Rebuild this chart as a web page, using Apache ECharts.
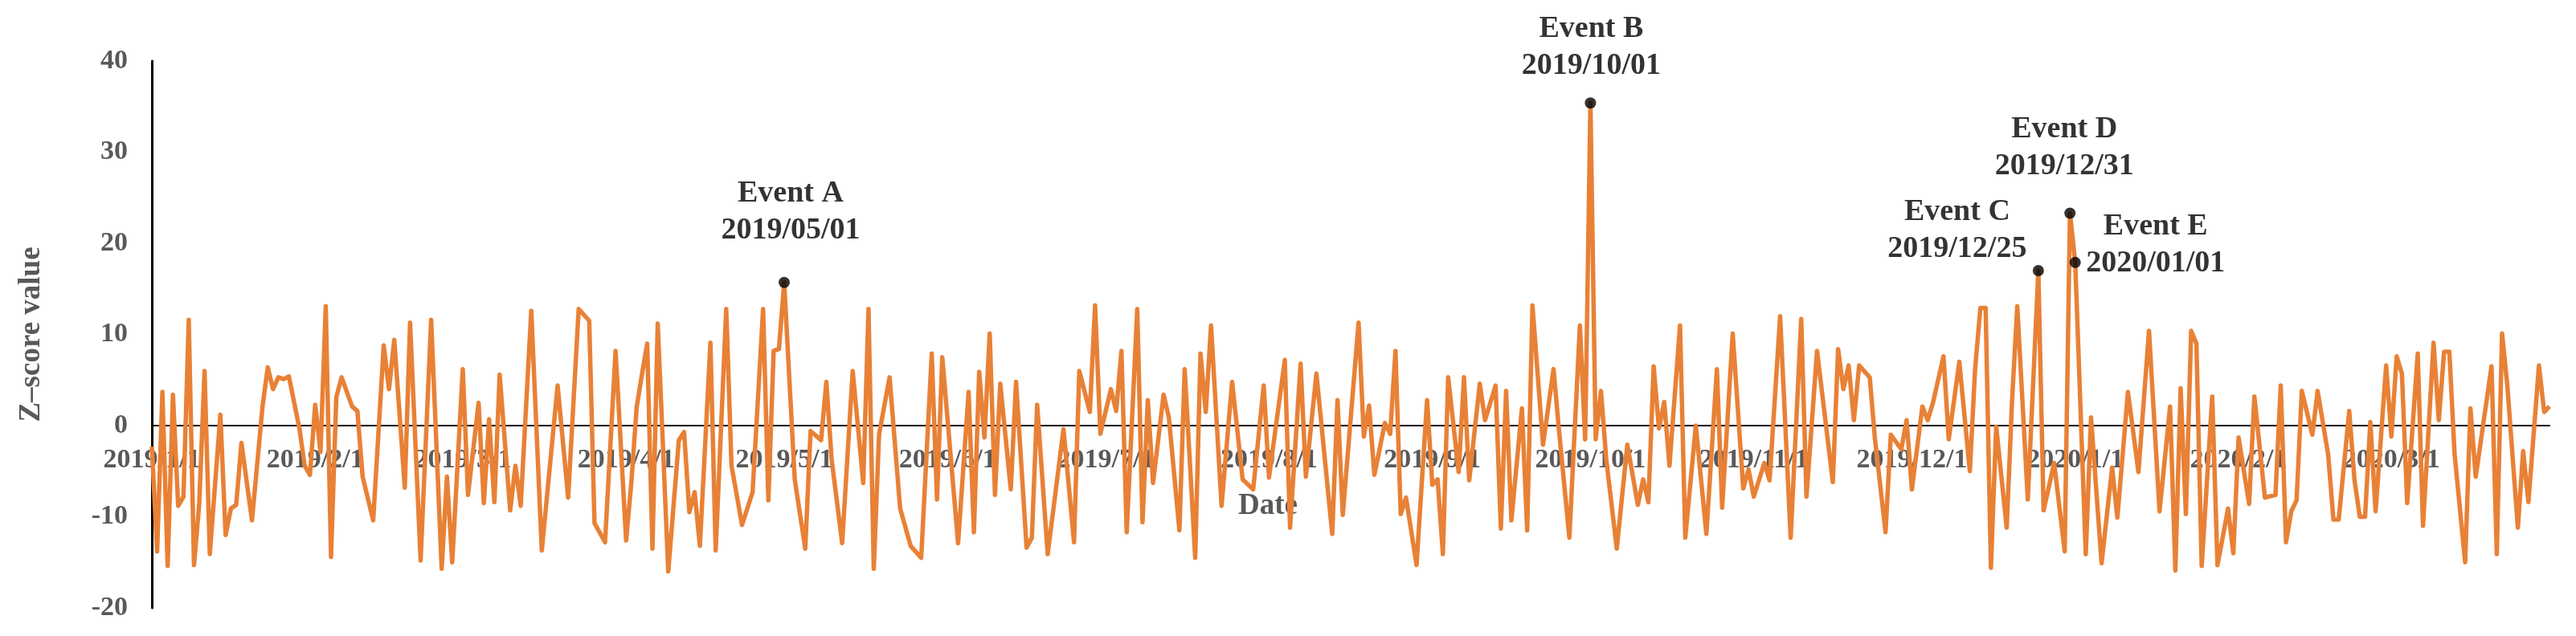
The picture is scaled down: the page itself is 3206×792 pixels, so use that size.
<!DOCTYPE html>
<html>
<head>
<meta charset="utf-8">
<script src="https://cdn.jsdelivr.net/npm/echarts@6/dist/echarts.min.js"></script>
<style>
html,body{margin:0;padding:0;background:#fff;}
#chart{width:3206px;height:792px;}
</style>
</head>
<body>
<div id="chart"></div>
<script>
// ---- Data ----
// day offsets from 2019/1/1 of each visible vertex of the series
const dayIndex = [
0,1,2,3,4,5,6,7,8,9,10,11,13,14,15,16,17,19,21,22,23,24,25,26,28,29,30,31,32,33,34,35,36,38,39,40,42,44,45,46,48,49,51,53,55,56,57,59,60,62,63,64,65,66,68,69,70,72,74,77,79,81,83,84,86,88,90,91,92,93,94,95,
96,98,100,101,102,103,104,106,107,109,110,112,114,116,117,118,119,120,122,124,125,127,128,129,131,133,135,136,137,138,140,142,144,146,148,149,150,153,155,156,157,158,159,160,161,163,164,166,167,168,170,173,175,176,178,179,180,182,183,184,185,187,188,189,190,192,193,195,
196,198,199,200,201,203,205,207,209,211,212,215,216,218,219,221,224,225,226,229,230,231,232,234,235,236,237,238,240,242,243,244,245,246,248,249,250,252,253,255,256,257,258,260,261,262,264,266,267,269,271,272,273,274,275,276,278,280,282,283,284,285,286,287,288,290,291,293,
295,297,298,300,302,303,304,306,307,309,311,313,314,316,319,320,321,322,323,324,326,327,329,330,332,333,334,336,337,338,340,341,343,345,346,347,348,349,350,352,353,354,356,358,359,361,363,364,365,367,368,370,372,373,375,377,379,381,383,384,385,386,387,388,389,391,392,394,395,396,398,
399,401,403,404,405,406,407,408,410,411,413,414,415,417,418,419,420,421,422,424,425,426,427,428,430,431,433,434,435,436,437,439,440,441,444,445,446,447,449,450,451,453,454,455
];
const zScore = [
-2.3,-13.8,3.7,-15.4,3.4,-8.8,-7.8,11.6,-15.3,-8.5,6.0,-14.1,1.2,-12.0,-9.1,-8.7,-1.9,-10.4,2.1,6.4,4.0,5.3,5.1,5.4,-0.3,-4.4,-5.4,2.3,-2.9,13.1,-14.4,3.1,5.3,2.1,1.6,-5.6,-10.4,8.8,4.0,9.4,-6.8,11.3,-14.8,11.6,-15.7,-5.6,-15.0,6.2,-7.6,2.5,-8.5,0.7,-8.4,5.6,-9.3,-4.4,-8.8,12.6,-13.7,4.4,-7.9,12.8,11.5,-10.7,-12.8,8.2,-12.6,-6.2,2.0,5.6,9.0,-13.5,
11.2,-16.0,-1.6,-0.7,-9.5,-7.3,-13.2,9.1,-13.7,12.8,-4.4,-10.9,-7.3,12.8,-8.2,8.2,8.4,15.7,-5.9,-13.5,-0.6,-1.6,4.8,-3.7,-12.9,6.0,-6.3,12.8,-15.7,-1.0,5.3,-9.1,-13.2,-14.5,7.9,-8.1,7.5,-12.9,3.7,-11.7,5.9,-1.3,10.1,-7.6,4.6,-7.0,4.8,-13.4,-12.3,2.3,-14.1,-0.4,-12.8,6.0,1.5,13.2,-0.9,4.0,1.6,8.2,-11.7,12.8,-10.6,2.8,-6.3,3.4,0.9,-11.5,
6.2,-14.5,7.9,1.5,11.0,-8.8,4.8,-5.9,-7.0,4.4,-5.7,7.2,-11.2,6.8,-5.6,5.7,-11.9,2.8,-9.8,11.3,-1.2,2.2,-5.4,0.3,-0.9,8.2,-9.7,-7.9,-15.3,2.8,-6.5,-5.9,-14.1,5.3,-5.1,5.3,-6.0,4.6,0.6,4.4,-11.3,3.8,-10.4,1.9,-11.5,13.2,-2.1,6.2,-0.3,-12.3,11.0,-1.5,35.4,-1.5,3.8,-3.7,-13.5,-2.1,-8.7,-5.9,-8.4,6.5,-0.3,2.6,-4.4,11.0,-12.3,0.0,
-11.9,6.2,-9.0,10.1,-6.9,-4.8,-7.8,-4.1,-6.0,12.0,-12.3,11.7,-7.8,8.2,-6.2,8.4,4.0,6.6,0.6,6.6,5.3,-1.5,-11.7,-1.0,-2.6,0.6,-7.0,2.1,0.6,2.5,7.6,-1.5,7.0,-5.0,6.2,12.9,12.9,-15.6,-0.1,-11.2,2.6,13.1,-8.1,17.0,-9.3,-4.1,-13.8,23.3,17.9,-14.1,0.9,-15.1,-4.6,-10.1,3.7,-5.1,10.4,-9.4,2.1,-15.9,4.1,-9.7,10.4,9.0,-15.4,3.2,-15.3,-9.1,-14.0,-1.3,-8.6,
3.2,-7.9,-7.6,4.4,-12.8,-9.4,-8.2,3.8,-1.0,3.8,-3.2,-10.3,-10.3,1.6,-6.0,-10.0,-10.0,0.4,-9.4,6.6,-1.2,7.6,5.7,-8.5,7.9,-11.0,9.1,0.6,8.1,8.1,-3.2,-15.0,1.9,-5.6,6.5,-14.1,10.1,4.4,-11.2,-2.8,-8.4,6.6,1.5,2.1
];
const tickLabels = ['2019/1/1','2019/2/1','2019/3/1','2019/4/1','2019/5/1','2019/6/1','2019/7/1','2019/8/1','2019/9/1','2019/10/1','2019/11/1','2019/12/1','2020/1/1','2020/2/1','2020/3/1'];
const yTicks = [-20,-10,0,10,20,30,40];
const eventNames = ['Event A','Event B','Event C','Event D','Event E'];
const eventDates = ['2019/05/01','2019/10/01','2019/12/25','2019/12/31','2020/01/01'];
const eventValues = [15.7,35.4,17.0,23.3,17.9];
const startDate = '2019/1/1';
const endDate = '2020/3/31';

// ---- helpers ----
function toDay(s){
  const p = s.split('/').map(Number);
  const base = Date.UTC(2019,0,1);
  return Math.round((Date.UTC(p[0],p[1]-1,p[2]) - base)/864e5);
}
const tickDays = tickLabels.map(toDay);
const labelByDay = {};
tickDays.forEach((d,i)=>{ labelByDay[d] = tickLabels[i]; });
const lineData = dayIndex.map((d,i)=>[d, zScore[i]]);

// label placement per event (style only)
const evLabelStyle = [
  {offset:[8,-30]},
  {offset:[1,-11]},
  {offset:[-101,8]},
  {offset:[-7,-23]},
  {offset:[100,36]}
];
const eventData = eventNames.map((n,i)=>({
  value:[toDay(eventDates[i]), eventValues[i]],
  label:{show:true, position:'top', distance:5, offset:evLabelStyle[i].offset,
         formatter: n + '\n' + eventDates[i]}
}));

const serif = '"Liberation Serif", "Times New Roman", serif';
const yMin = yTicks[0], yMax = yTicks[yTicks.length-1];
const gridTop = 76, gridBottom = 35, chartH = 792;
// move the x axis (line, labels, name) up to the zero line
const zeroOffset = -((chartH - gridBottom - gridTop) * (0 - yMin) / (yMax - yMin));

const chart = echarts.init(document.getElementById('chart'), null, {renderer:'canvas'});
chart.setOption({
  animation:false,
  backgroundColor:'#ffffff',
  grid:{left:189, right:33, top:gridTop, bottom:gridBottom, containLabel:false, outerBoundsMode:'none'},
  xAxis:{
    type:'value', min:toDay(startDate), max:toDay(endDate),
    offset: zeroOffset,
    name:'Date', nameLocation:'middle', nameGap:82,
    nameTextStyle:{fontFamily:serif, fontSize:37, fontWeight:'bold', color:'#595959', padding:[0,206,0,0]},
    axisLine:{show:true, onZero:false, lineStyle:{color:'#000', width:2}},
    axisTick:{show:false},
    splitLine:{show:false},
    axisLabel:{
      customValues: tickDays,
      formatter:(v)=>labelByDay[Math.round(v)] || '',
      margin:26, fontFamily:serif, fontSize:34, fontWeight:'bold', color:'#595959'
    }
  },
  yAxis:{
    type:'value', min:yMin, max:yMax, interval:10,
    name:'Z–score value', nameLocation:'middle', nameGap:131,
    nameTextStyle:{fontFamily:serif, fontSize:37, fontWeight:'bold', color:'#595959'},
    axisLine:{show:true, lineStyle:{color:'#000', width:3}},
    axisTick:{show:false},
    splitLine:{show:false},
    axisLabel:{margin:30, fontFamily:serif, fontSize:34, fontWeight:'bold', color:'#595959'}
  },
  series:[
    {
      type:'line', data:lineData, showSymbol:false, symbol:'none',
      lineStyle:{color:'#E88136', width:5.5, join:'round'},
      z:2
    },
    {
      type:'scatter', data:eventData, symbol:'circle', symbolSize:14,
      itemStyle:{color:'#000'},
      label:{fontFamily:serif, fontSize:38, fontWeight:'bold', color:'#000', lineHeight:46, align:'center'},
      z:5
    }
  ]
});
</script>
</body>
</html>
